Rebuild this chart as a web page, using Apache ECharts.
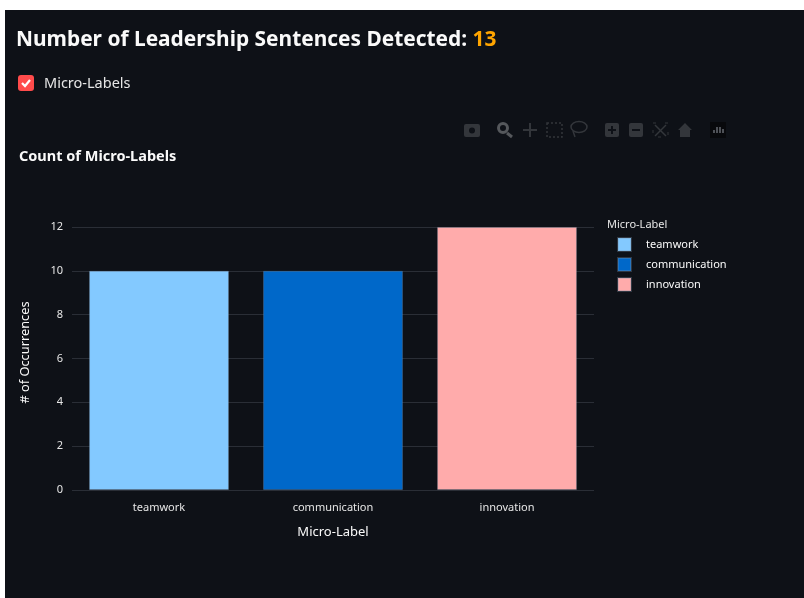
<!DOCTYPE html>
<html><head><meta charset="utf-8">
<script src="https://cdn.jsdelivr.net/npm/echarts@6/dist/echarts.min.js"></script>
<style>
html,body{margin:0;padding:0;background:#fff;overflow:hidden}
#bg{position:absolute;left:5px;top:10px;width:799px;height:588px;background:#0e1117}
#c{position:absolute;left:0;top:0;width:804px;height:598px}
</style></head><body><div id="bg"></div><div id="c"></div>
<script>
const categories=['teamwork','communication','innovation'];
const values=[10,10,12];
const colors=['#83c9ff','#0068c9','#ffabab'];
const yTicks=[0,2,4,6,8,10,12];
const font='"Noto Sans"';
const chart=echarts.init(document.getElementById('c'));
const series=categories.map((c,i)=>({
  name:c,type:'bar',stack:'all',barWidth:'80.4%',
  data:categories.map((_,j)=>j===i?values[i]:null),
  itemStyle:{color:colors[i],borderColor:'rgba(130,150,170,0.3)',borderWidth:1}
}));
const G='#33363b';
const icon=(x,y,w,h,r)=>({type:'rect',shape:{x,y,width:w,height:h,r:r===undefined?2:r},style:{fill:G},silent:true});
const ln=(x1,y1,x2,y2,c,w)=>({type:'line',shape:{x1,y1,x2,y2},style:{stroke:c||G,lineWidth:w||2},silent:true});
const BG='#0e1117';
chart.setOption({
  animation:false,
  backgroundColor:'transparent',
  title:{text:'Count of Micro-Labels',left:14,top:144,textStyle:{color:'#fafafa',fontFamily:font,fontSize:14.5,fontWeight:'bold'}},
  grid:{left:72,top:227,width:522,height:263,containLabel:false},
  legend:{show:true,left:612,top:232,orient:'vertical',itemWidth:13,itemHeight:13,itemGap:5,
    data:categories,textStyle:{color:'#fafafa',fontFamily:font,fontSize:11,padding:[0,0,0,10]},icon:'rect'},
  xAxis:{type:'category',data:categories,name:'Micro-Label',nameLocation:'middle',nameGap:36,
    nameTextStyle:{color:'#fafafa',fontFamily:font,fontSize:13},
    axisLine:{show:false},axisTick:{show:false},
    axisLabel:{color:'#e6e6e6',fontFamily:font,fontSize:11,margin:12}},
  yAxis:{type:'value',min:0,max:12,interval:2,name:'# of Occurrences',nameLocation:'middle',nameGap:40,
    nameTextStyle:{color:'#fafafa',fontFamily:font,fontSize:12.8,padding:[0,0,0,12]},
    axisLine:{show:false},axisTick:{show:false},
    axisLabel:{color:'#e6e6e6',fontFamily:font,fontSize:11,margin:9,padding:[2,0,0,0],formatter:v=>yTicks.includes(v)?String(v):''},
    splitLine:{lineStyle:{color:'#2a2e36',width:1}}},
  series,
  graphic:[
    {type:'text',left:16,top:30,style:{text:'Number of Leadership Sentences Detected: {o|13}',fill:'#fafafa',font:'bold 20.9px '+font,
      rich:{o:{fill:'#ffa500',font:'bold 20.9px '+font}}}},
    {type:'rect',shape:{x:18,y:75,width:16,height:16,r:3},style:{fill:'#ff4b4b'}},
    {type:'polyline',shape:{points:[[22,83],[25,86],[30,80]]},style:{stroke:'#fff',lineWidth:2.2,fill:'none'}},
    {type:'text',left:44,top:76,style:{text:'Micro-Labels',fill:'#e6e6e6',font:'14.5px '+font}},
    {type:'text',left:607,top:219,style:{text:'Micro-Label',fill:'#e6e6e6',font:'11px '+font}},
    // modebar
    icon(464,124,16,13),{type:'circle',shape:{cx:472,cy:130.5,r:3},style:{fill:BG},silent:true},
    {type:'circle',shape:{cx:503,cy:128,r:4.5},style:{fill:'none',stroke:'#55585c',lineWidth:3},silent:true},ln(507,133,512,137,'#55585c',3),
    ln(530,123,530,137),ln(523,130,537,130),
    {type:'rect',shape:{x:547,y:123,width:15,height:14},style:{fill:'none',stroke:G,lineWidth:1.5,lineDash:[2,2]},silent:true},
    {type:'ellipse',shape:{cx:579,cy:127,rx:8,ry:5.5},style:{fill:'none',stroke:G,lineWidth:1.5},silent:true},ln(573,131,575,137,G,1.5),
    icon(605,123,14,14),ln(612,126,612,134,BG),ln(608,130,616,130,BG),
    icon(629,123,14,14),ln(632,130,640,130,BG),
    ln(655,125,666,136,G,1.5),ln(666,125,655,136,G,1.5),
    {type:'rect',shape:{x:653,y:123,width:15,height:14},style:{fill:'none',stroke:G,lineWidth:1,lineDash:[3,9]},silent:true},
    {type:'polygon',shape:{points:[[678,130],[685,123],[692,130],[690,130],[690,137],[680,137],[680,130]]},style:{fill:G},silent:true},
    {type:'rect',shape:{x:710,y:122,width:16,height:16},style:{fill:'#08090c'},silent:true},
    ln(714,133,714,130,'#666a70',1.5),ln(717,133,717,127,'#666a70',1.5),ln(720,133,720,127,'#666a70',1.5),ln(723,133,723,129,'#666a70',1.5)
  ]
});
</script></body></html>
